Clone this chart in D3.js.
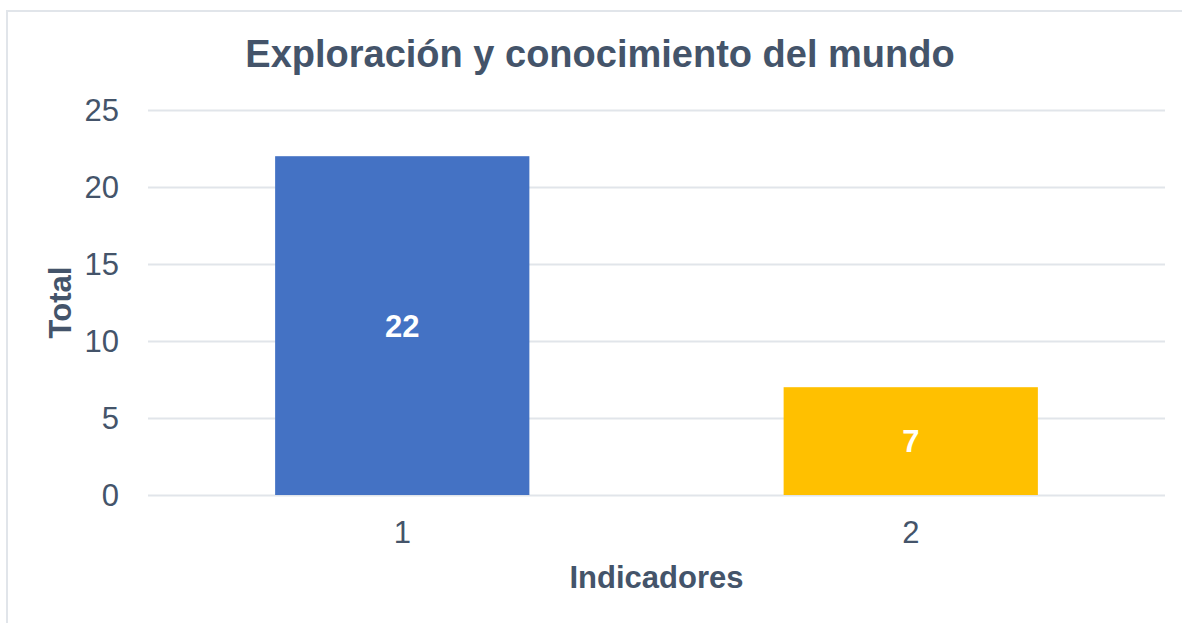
<!DOCTYPE html>
<meta charset="utf-8">
<style>
    body { margin: 0; background: #fff; }
    text { font-family: "Liberation Sans", Arial, sans-serif; fill: #44546A; }
    .grid line { stroke: #E1E5EA; stroke-width: 2; }
    .grid .domain { display: none; }
</style>
<svg width="1182" height="623"></svg>
<script src="https://cdn.jsdelivr.net/npm/d3@7"></script>
<script>
    var categories = ["1", "2"];
    var values = [22, 7];
    var barColors = ["#4472C4", "#FFC000"];
    var yTicks = [0, 5, 10, 15, 20, 25];

    var svg = d3.select("svg"),
        margin = { top: 110, right: 17, bottom: 128, left: 148 },
        width = +svg.attr("width") - margin.left - margin.right,
        height = +svg.attr("height") - margin.top - margin.bottom;

    // marco del gráfico
    svg.append("rect")
        .attr("x", 7).attr("y", 11)
        .attr("width", 1200).attr("height", 700)
        .attr("fill", "#fff")
        .attr("stroke", "#E1E5EA")
        .attr("stroke-width", 2);

    var x = d3.scaleBand().domain(categories).range([0, width])
        .paddingInner(0.5).paddingOuter(0.25);
    var y = d3.scaleLinear().domain([0, 25]).range([height, 0]);

    var g = svg.append("g")
        .attr("transform", "translate(" + margin.left + "," + margin.top + ")");

    // líneas de cuadrícula
    g.append("g")
        .attr("class", "grid")
        .call(d3.axisLeft(y).tickValues(yTicks).tickSize(-width).tickFormat(""));

    // etiquetas del eje y
    g.selectAll(".ylab")
        .data(yTicks)
        .enter().append("text")
        .attr("x", -29)
        .attr("y", function (d) { return y(d); })
        .attr("dy", "0.36em")
        .attr("text-anchor", "end")
        .style("font-size", "31px")
        .text(function (d) { return d; });

    g.selectAll(".bar")
        .data(values)
        .enter().append("rect")
        .attr("x", function (d, i) { return x(categories[i]); })
        .attr("y", function (d) { return y(d); })
        .attr("width", x.bandwidth())
        .attr("height", function (d) { return height - y(d); })
        .attr("fill", function (d, i) { return barColors[i]; });

    g.selectAll(".vlab")
        .data(values)
        .enter().append("text")
        .attr("x", function (d, i) { return x(categories[i]) + x.bandwidth() / 2; })
        .attr("y", function (d) { return (y(d) + height) / 2; })
        .attr("dy", "0.36em")
        .attr("text-anchor", "middle")
        .style("font-size", "31px")
        .style("font-weight", "bold")
        .style("fill", "#fff")
        .text(function (d) { return d; });

    // etiquetas del eje x
    g.selectAll(".xlab")
        .data(categories)
        .enter().append("text")
        .attr("x", function (d) { return x(d) + x.bandwidth() / 2; })
        .attr("y", height + 48)
        .attr("text-anchor", "middle")
        .style("font-size", "31px")
        .text(function (d) { return d; });

    svg.append("text")
        .attr("x", 600).attr("y", 67)
        .attr("text-anchor", "middle")
        .style("font-size", "38px")
        .style("font-weight", "bold")
        .text("Exploración y conocimiento del mundo");

    svg.append("text")
        .attr("x", margin.left + width / 2).attr("y", 588)
        .attr("text-anchor", "middle")
        .style("font-size", "31px")
        .style("font-weight", "bold")
        .text("Indicadores");

    svg.append("text")
        .attr("transform", "translate(71," + (margin.top + height / 2) + ") rotate(-90)")
        .attr("text-anchor", "middle")
        .style("font-size", "31px")
        .style("font-weight", "bold")
        .text("Total");
</script>
